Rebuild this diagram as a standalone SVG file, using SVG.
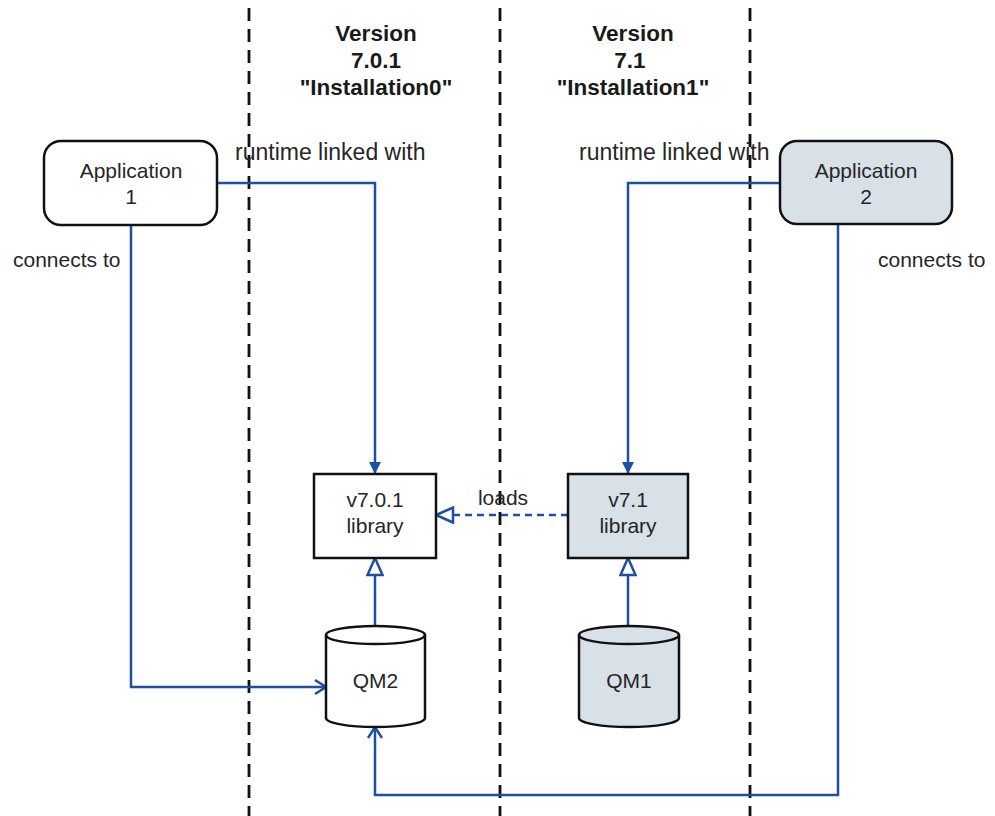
<svg xmlns="http://www.w3.org/2000/svg" width="995" height="816" viewBox="0 0 995 816">
<style>
text{font-family:"Liberation Sans",Arial,sans-serif;fill:#262626;font-size:21px}
.hd{font-weight:bold;font-size:22.5px;text-anchor:middle;fill:#1a1a1a}
.c{text-anchor:middle}
.lbl{font-size:23px}
.node{stroke:#111;stroke-width:2.5}
.w{fill:#fff}
.g{fill:#d8e0e8}
.sep{stroke:#111;stroke-width:2.8;stroke-dasharray:13 8;fill:none}
.conn{stroke:#1f4fa0;stroke-width:2.5;fill:none}
</style>
<defs>
<marker id="fill" viewBox="0 0 12 12" refX="12" refY="6" markerWidth="12" markerHeight="12" markerUnits="userSpaceOnUse" orient="auto">
<path d="M0,0 L12,6 L0,12 Z" fill="#1f4fa0"/>
</marker>
<marker id="tri" viewBox="0 0 22 18" refX="20" refY="9" markerWidth="22" markerHeight="18" markerUnits="userSpaceOnUse" orient="auto">
<path d="M3,1.5 L20,9 L3,16.5 Z" fill="#fff" stroke="#1f4fa0" stroke-width="2.5"/>
</marker>
<marker id="vee" viewBox="0 0 14 16" refX="12" refY="8" markerWidth="14" markerHeight="16" markerUnits="userSpaceOnUse" orient="auto">
<path d="M1,1 L12,8 L1,15" fill="none" stroke="#1f4fa0" stroke-width="2.5"/>
</marker>
</defs>
<g id="separators">
<line class="sep" x1="249" y1="8" x2="249" y2="816"/>
<line class="sep" x1="500" y1="8" x2="500" y2="816"/>
<line class="sep" x1="750" y1="8" x2="750" y2="816"/>
</g>
<g id="header0">
<text class="hd" x="376" y="41">Version</text>
<text class="hd" x="376" y="68">7.0.1</text>
<text class="hd" x="376" y="95">"Installation0"</text>
</g>
<g id="header1">
<text class="hd" x="633" y="41">Version</text>
<text class="hd" x="630" y="68">7.1</text>
<text class="hd" x="633" y="95">"Installation1"</text>
</g>
<g id="connectors">
<polyline class="conn" points="217,183 375,183 375,474" marker-end="url(#fill)"/>
<polyline class="conn" points="780,183 628,183 628,474" marker-end="url(#fill)"/>
<polyline class="conn" points="131,225 131,687 326,687" marker-end="url(#vee)"/>
<polyline class="conn" points="838,225 838,795 375,795 375,727" marker-end="url(#vee)"/>
<line class="conn" x1="568" y1="515" x2="436" y2="515" stroke-dasharray="7 5" marker-end="url(#tri)"/>
<line class="conn" x1="375" y1="626" x2="375" y2="558" marker-end="url(#tri)"/>
<line class="conn" x1="628" y1="626" x2="628" y2="558" marker-end="url(#tri)"/>
<text class="lbl" x="235" y="160">runtime linked with</text>
<text class="lbl" x="579" y="160">runtime linked with</text>
<text x="13" y="267">connects to</text>
<text x="878" y="267">connects to</text>
<text x="503" y="505" class="c">loads</text>
</g>
<g id="app1">
<rect class="node w" x="44" y="141" width="173" height="84" rx="17"/>
<text class="c" x="131" y="178">Application</text>
<text class="c" x="131" y="204">1</text>
</g>
<g id="app2">
<rect class="node g" x="780" y="141" width="172" height="83" rx="17"/>
<text class="c" x="866" y="178">Application</text>
<text class="c" x="866" y="204">2</text>
</g>
<g id="lib701">
<rect class="node w" x="314" y="474" width="122" height="84"/>
<text class="c" x="375" y="507">v7.0.1</text>
<text class="c" x="375" y="533">library</text>
</g>
<g id="lib71">
<rect class="node g" x="568" y="474" width="120" height="84"/>
<text class="c" x="628" y="507">v7.1</text>
<text class="c" x="628" y="533">library</text>
</g>
<g id="qm2">
<path class="node w" d="M326,635 L326,718 A49.5,9 0 0 0 425,718 L425,635 A49.5,9 0 0 0 326,635 Z"/>
<path class="node" fill="none" d="M326,635 A49.5,9 0 0 0 425,635"/>
<text class="c" x="375.5" y="688">QM2</text>
</g>
<g id="qm1">
<path class="node g" d="M579,635 L579,718 A50,9 0 0 0 679,718 L679,635 A50,9 0 0 0 579,635 Z"/>
<path class="node" fill="none" d="M579,635 A50,9 0 0 0 679,635"/>
<text class="c" x="629" y="688">QM1</text>
</g>
</svg>
